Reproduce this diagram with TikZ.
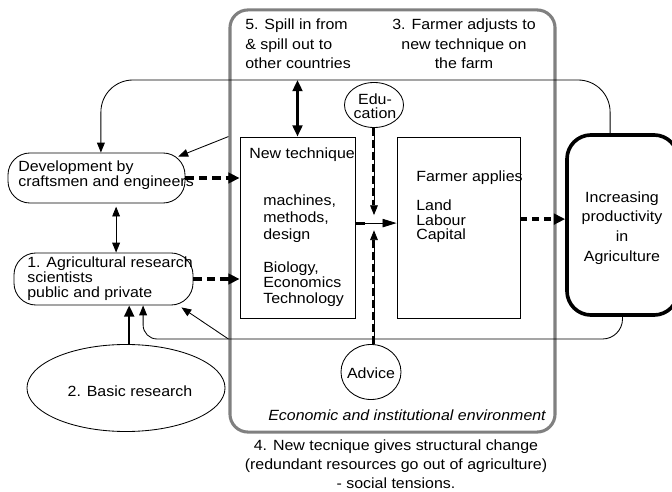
\documentclass[tikz,border=0pt]{standalone}
\usepackage{fontspec}
\setmainfont{Liberation Sans}[FakeStretch=1.08]
\usepackage{tikz}
\usetikzlibrary{positioning,arrows.meta,calc,shapes.geometric}
\definecolor{envgray}{HTML}{808080}
\tikzset{
  envbox/.style={draw=envgray, line width=2.2pt, rounded corners=0.45cm, inner sep=0pt},
  pill/.style={draw, line width=0.6pt, rounded corners=0.55cm, inner sep=0pt},
  plainbox/.style={draw, line width=0.6pt, inner sep=0pt},
  goalbox/.style={draw, line width=2.6pt, rounded corners=0.6cm, inner sep=0pt},
  oval/.style={draw, ellipse, line width=0.6pt, inner sep=0pt},
  lbl/.style={inner sep=0pt, align=left, anchor=west, font=\fontsize{10.5}{#1}\selectfont},
  lbl/.default=10.7,
  clbl/.style={inner sep=0pt, align=center, font=\fontsize{10.5}{#1}\selectfont},
  clbl/.default=10.7,
  link/.style={line width=0.6pt, -{Triangle[length=7pt,width=5.5pt]}},
  biglink/.style={line width=1.8pt, {Triangle[length=8pt,width=7pt]}-{Triangle[length=8pt,width=7pt]}},
  dashlink/.style={line width=2.6pt, dash pattern=on 6pt off 3.5pt, -{Triangle[length=8pt,width=7.5pt]}},
  vdash/.style={line width=1.8pt, dash pattern=on 6pt off 2.5pt},
}
\begin{document}
\begin{tikzpicture}[x=0.025cm, y=-0.025cm]
\useasboundingbox (0,0) rectangle (672,492);

% boxes
\node[envbox, minimum width=8.125cm, minimum height=10.55cm] (env) at (392.5,221) {};
\node[pill, minimum width=4.425cm, minimum height=1.25cm] (dev) at (96.5,178) {};
\node[pill, minimum width=4.475cm, minimum height=1.3cm] (agri) at (103.5,279) {};
\node[oval, minimum width=4.95cm, minimum height=2.175cm] (basic) at (126,388) {};
\node[plainbox, minimum width=2.875cm, minimum height=4.525cm] (nt) at (297.5,227.5) {};
\node[plainbox, minimum width=3.075cm, minimum height=4.525cm] (farmer) at (458.5,227.5) {};
\node[goalbox, minimum width=2.775cm, minimum height=4.5cm] (inc) at (622.5,225) {};
\node[oval, fill=white, minimum width=1.475cm, minimum height=1.125cm] (edu) at (374,105) {};
\node[oval, fill=white, minimum width=1.5cm, minimum height=1.375cm] (adv) at (371,372) {};

% texts
\node[lbl=13.9] (spill) at (245,44) {5. Spill in from\\\& spill out to\\other countries};
\node[clbl=13.9] (adjust) at (464,44) {3. Farmer adjusts to\\new technique on\\the farm};
\node[lbl] (devtxt) at (18,175.5) {Development by\\craftsmen and engineers};
\node[lbl] (agritxt) at (27,279) {1. Agricultural research\\scientists\\public and private};
\node[clbl] (basictxt) at (130,391) {2. Basic research};
\node[lbl] (nttitle) at (249,155) {New technique};
\node[lbl=12.1] (ntmach) at (263,219) {machines,\\methods,\\design};
\node[lbl=11] (ntbio) at (263,284) {Biology,\\Economics\\Technology};
\node[lbl] (fatitle) at (416,178) {Farmer applies};
\node[lbl=10.3] (faland) at (416,221.5) {Land\\Labour\\Capital};
\node[clbl=14] (inctxt) at (622,228) {Increasing\\productivity\\in\\Agriculture};
\node[clbl=10] (edutxt) at (375,106) {Edu-\\cation};
\node[clbl] (advtxt) at (371,373) {Advice};
\node[lbl, anchor=east, font=\fontsize{10.5}{10.7}\selectfont\itshape] (envtxt) at (546,415) {Economic and institutional environment};
\node[clbl=13.6] (change) at (396,464) {4. New tecnique gives structural change\\(redundant resources go out of agriculture)\\- social tensions.};

% feedback lines
\coordinate (topline) at (297.5,80);
\coordinate (botline) at (300,339);
\draw[link, rounded corners=0.8cm] ([xshift=-0.31cm]inc.north) |- (topline) -| ([xshift=0.11cm]dev.north);
\draw[link] (inc.south) [rounded corners=0.5cm] |- (botline) [rounded corners=0.35cm] -| ([xshift=0.99cm]agri.south);
\draw[link] (env.west |- nt.north) -- ([xshift=-0.18cm,yshift=-0.1cm]dev.north east);
\draw[link] (env.west |- botline) -- ([xshift=-0.3cm,yshift=-0.05cm]agri.south east);

% research links
\draw[line width=0.6pt, {Triangle[length=7pt,width=5.5pt]}-{Triangle[length=7pt,width=5.5pt]}]
  ([xshift=0.49cm,yshift=-0.08cm]dev.south) -- ([xshift=0.49cm]dev.south |- agri.north);
\draw[line width=1.8pt, -{Triangle[length=8pt,width=7pt]}] ([xshift=0.08cm]basic.north) -- ([xshift=0.08cm]basic.north |- agri.south);
\draw[biglink] (nt.north |- topline) -- (nt.north);

% technique flow
\draw[dashlink] (dev.east) -- (dev.east -| nt.west);
\draw[dashlink] (agri.east) -- (agri.east -| nt.west);
\draw[dashlink, dash pattern=on 4.5pt off 4pt] ([yshift=0.21cm]farmer.east) -- ([yshift=0.21cm]farmer.east -| inc.west);
\coordinate (jn) at ([yshift=0.11cm]nt.east);
\draw[link, -{Triangle[length=10pt,width=6pt]}] (jn) -- (jn -| farmer.west);
\draw[line width=2pt, dash pattern=on 7pt off 100pt] (jn) -- (jn -| farmer.west);

% education and advice
\draw[link, shorten >=0.2cm] (edu.south) -- (edu.south |- jn);
\draw[vdash, shorten >=0.45cm] ([xshift=-0.6pt]edu.south) -- ([xshift=-0.6pt]edu.south |- jn);
\draw[link, shorten >=0.18cm] (adv.north -| edu.south) -- (edu.south |- jn);
\draw[vdash, shorten >=0.43cm] ([xshift=-0.6pt]adv.north -| edu.south) -- ([xshift=-0.6pt]edu.south |- jn);
\end{tikzpicture}
\end{document}
